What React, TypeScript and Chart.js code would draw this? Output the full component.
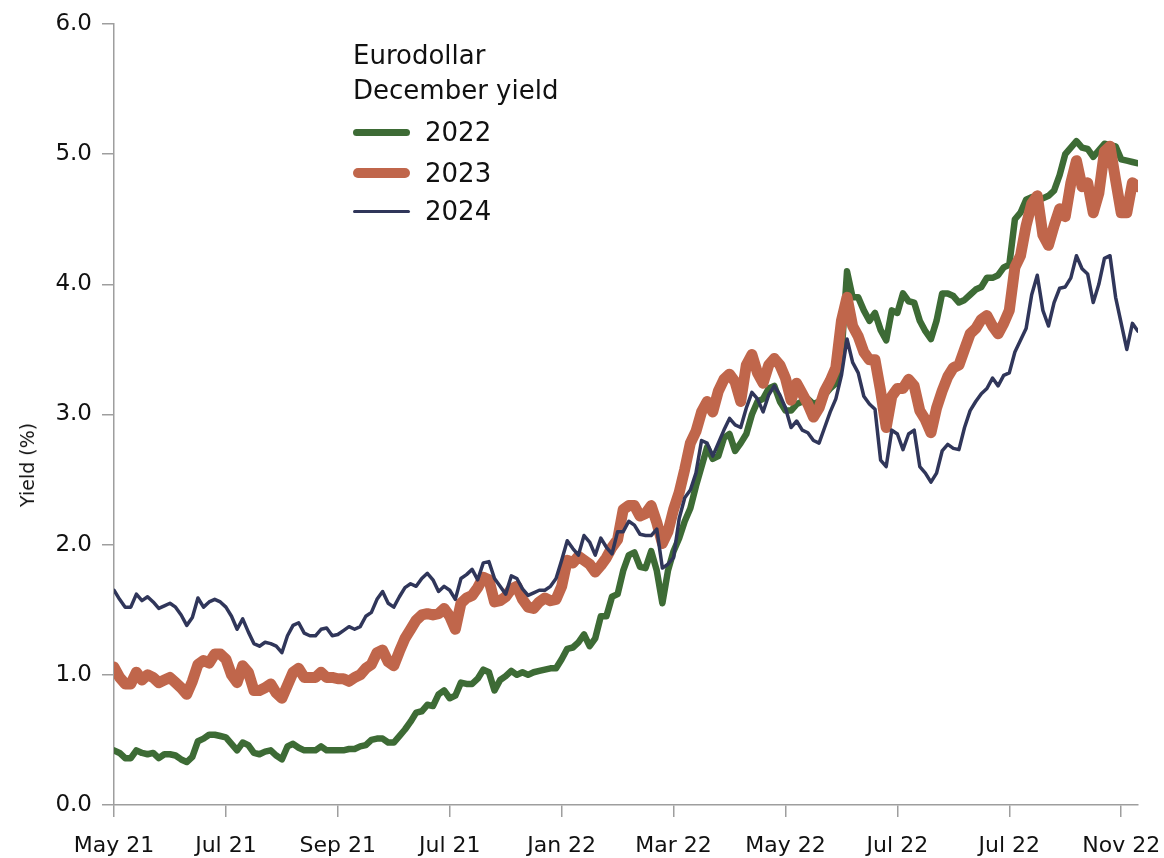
import React, { useEffect, useRef } from 'react';
import { Chart, registerables } from 'chart.js';

Chart.register(...registerables);

// X tick labels (as printed on the reference) and their positions in data-index units
const tickLabels = ['May 21', 'Jul 21', 'Sep 21', 'Jul 21', 'Jan 22', 'Mar 22', 'May 22', 'Jul 22', 'Jul 22', 'Nov 22'];
const tickIndex = [0, 20, 40, 60, 80, 100, 120, 140, 160, 180];
const yTicks = [0, 1, 2, 3, 4, 5, 6];

// Eurodollar December yield (%), sampled along the time axis
const yield2022 = [
  0.42, 0.40, 0.36, 0.36, 0.42, 0.40, 0.39, 0.40, 0.36, 0.39, 0.39, 0.38, 0.35, 0.33, 0.37, 0.49, 0.51, 0.54, 0.54, 0.53, 0.52,
  0.47, 0.42, 0.48, 0.46, 0.40, 0.39, 0.41, 0.42, 0.38, 0.35, 0.45, 0.47, 0.44, 0.42, 0.42, 0.42, 0.45, 0.42, 0.42, 0.42,
  0.42, 0.43, 0.43, 0.45, 0.46, 0.50, 0.51, 0.51, 0.48, 0.48, 0.53, 0.58, 0.64, 0.71, 0.72, 0.77, 0.76, 0.85, 0.88, 0.82,
  0.84, 0.94, 0.93, 0.93, 0.97, 1.04, 1.02, 0.88, 0.96, 0.99, 1.03, 1.00, 1.02, 1.00, 1.02, 1.03, 1.04, 1.05, 1.05, 1.12,
  1.20, 1.21, 1.25, 1.31, 1.22, 1.28, 1.45, 1.45, 1.60, 1.62, 1.80, 1.92, 1.94, 1.83, 1.82, 1.95, 1.80, 1.55, 1.80, 1.95,
  2.05, 2.18, 2.28, 2.45, 2.60, 2.75, 2.66, 2.68, 2.82, 2.85, 2.72, 2.78, 2.85, 3.00, 3.10, 3.12, 3.20, 3.22, 3.10, 3.03,
  3.03, 3.08, 3.10, 3.12, 3.08, 3.10, 3.15, 3.20, 3.24, 3.45, 4.10, 3.90, 3.90, 3.80, 3.72, 3.78, 3.65, 3.57, 3.80, 3.78,
  3.93, 3.87, 3.86, 3.72, 3.64, 3.58, 3.72, 3.93, 3.93, 3.91, 3.86, 3.88, 3.92, 3.96, 3.98, 4.05, 4.05, 4.07, 4.13, 4.15,
  4.50, 4.55, 4.65, 4.67, 4.66, 4.66, 4.68, 4.72, 4.84, 5.00, 5.05, 5.10, 5.05, 5.04, 4.98, 5.03, 5.08, 5.07, 5.06, 4.96,
  4.95, 4.94, 4.93,
];

const yield2023 = [
  1.06, 0.98, 0.93, 0.93, 1.02, 0.96, 1.00, 0.98, 0.94, 0.96, 0.98, 0.94, 0.90, 0.85, 0.95, 1.08, 1.11, 1.09, 1.16, 1.16, 1.12,
  1.00, 0.94, 1.07, 1.02, 0.88, 0.88, 0.90, 0.93, 0.86, 0.82, 0.92, 1.02, 1.05, 0.98, 0.98, 0.98, 1.02, 0.98, 0.98, 0.97,
  0.97, 0.95, 0.98, 1.00, 1.05, 1.08, 1.17, 1.19, 1.10, 1.07, 1.18, 1.28, 1.35, 1.42, 1.46, 1.47, 1.46, 1.47, 1.51, 1.45,
  1.35, 1.55, 1.59, 1.61, 1.67, 1.75, 1.73, 1.56, 1.57, 1.60, 1.66, 1.68, 1.58, 1.52, 1.51, 1.56, 1.59, 1.57, 1.58, 1.68,
  1.88, 1.86, 1.91, 1.88, 1.85, 1.79, 1.84, 1.90, 1.98, 2.04, 2.27, 2.30, 2.30, 2.22, 2.24, 2.30, 2.17, 2.01, 2.10, 2.27,
  2.40, 2.58, 2.78, 2.87, 3.02, 3.10, 3.02, 3.18, 3.27, 3.31, 3.25, 3.10, 3.38, 3.46, 3.32, 3.24, 3.38, 3.43, 3.38, 3.28,
  3.11, 3.24, 3.16, 3.08, 2.98, 3.05, 3.18, 3.26, 3.36, 3.72, 3.90, 3.68, 3.60, 3.48, 3.42, 3.42, 3.18, 2.90, 3.14, 3.20,
  3.20, 3.27, 3.22, 3.03, 2.96, 2.86, 3.05, 3.18, 3.29, 3.36, 3.38, 3.50, 3.62, 3.66, 3.73, 3.76, 3.68, 3.62, 3.70, 3.80,
  4.13, 4.22, 4.45, 4.62, 4.68, 4.38, 4.30, 4.45, 4.58, 4.52, 4.78, 4.95, 4.75, 4.78, 4.55, 4.70, 5.02, 5.06, 4.80, 4.55,
  4.55, 4.78, 4.75,
];

const yield2024 = [
  1.65, 1.58, 1.52, 1.52, 1.62, 1.57, 1.60, 1.56, 1.51, 1.53, 1.55, 1.52, 1.46, 1.38, 1.44, 1.59, 1.52, 1.56, 1.58, 1.56, 1.52,
  1.45, 1.35, 1.43, 1.33, 1.24, 1.22, 1.25, 1.24, 1.22, 1.17, 1.30, 1.38, 1.40, 1.32, 1.30, 1.30, 1.35, 1.36, 1.30, 1.31,
  1.34, 1.37, 1.35, 1.37, 1.45, 1.48, 1.58, 1.64, 1.55, 1.52, 1.60, 1.67, 1.70, 1.68, 1.74, 1.78, 1.73, 1.64, 1.68, 1.65,
  1.58, 1.74, 1.77, 1.81, 1.73, 1.86, 1.87, 1.74, 1.68, 1.62, 1.76, 1.74, 1.66, 1.61, 1.63, 1.65, 1.65, 1.68, 1.74, 1.88,
  2.03, 1.97, 1.92, 2.07, 2.02, 1.92, 2.05, 1.98, 1.93, 2.10, 2.10, 2.18, 2.15, 2.08, 2.07, 2.07, 2.12, 1.82, 1.85, 1.90,
  2.20, 2.36, 2.42, 2.55, 2.80, 2.78, 2.68, 2.78, 2.88, 2.97, 2.92, 2.90, 3.05, 3.17, 3.12, 3.02, 3.15, 3.22, 3.15, 3.05,
  2.90, 2.95, 2.88, 2.86, 2.80, 2.78, 2.90, 3.02, 3.12, 3.30, 3.58, 3.40, 3.32, 3.14, 3.08, 3.04, 2.65, 2.60, 2.88, 2.85,
  2.73, 2.85, 2.88, 2.60, 2.55, 2.48, 2.55, 2.72, 2.77, 2.74, 2.73, 2.90, 3.03, 3.10, 3.16, 3.20, 3.28, 3.22, 3.30, 3.32,
  3.48, 3.57, 3.66, 3.92, 4.07, 3.80, 3.68, 3.86, 3.97, 3.98, 4.05, 4.22, 4.12, 4.08, 3.86, 4.00, 4.20, 4.22, 3.90, 3.70,
  3.50, 3.70, 3.64,
];

const GREEN = '#3d6b35';
const ORANGE = '#c0664b';
const NAVY = '#30365a';
const AXIS = '#9e9e9e';
const FONT = 'DejaVu Sans';

const legendItems = [
  { label: '2022', color: GREEN, width: 7, center: 132 },
  { label: '2023', color: ORANGE, width: 10, center: 173 },
  { label: '2024', color: NAVY, width: 3, center: 211 },
];

export default function App() {
  const ref = useRef<HTMLCanvasElement>(null);

  useEffect(() => {
    const canvas = ref.current;
    if (!canvas) return;
    const toXY = (arr: number[]) => arr.map((y, x) => ({ x, y }));
    const chart = new Chart(canvas, {
      type: 'line',
      data: {
        datasets: [
          { label: '2024', data: toXY(yield2024), borderColor: NAVY, borderWidth: 3.5, order: 0 },
          { label: '2023', data: toXY(yield2023), borderColor: ORANGE, borderWidth: 11, order: 1 },
          { label: '2022', data: toXY(yield2022), borderColor: GREEN, borderWidth: 6.5, order: 2 },
        ],
      },
      options: {
        responsive: false,
        animation: false,
        layout: { padding: { top: 24, right: 26, bottom: 0, left: 0 } },
        elements: {
          point: { radius: 0, hoverRadius: 0 },
          line: { tension: 0, borderJoinStyle: 'round', borderCapStyle: 'round', fill: false },
        },
        plugins: { legend: { display: false }, tooltip: { enabled: false }, title: { display: false } },
        scales: {
          x: {
            type: 'linear',
            min: 0,
            max: 183,
            afterBuildTicks: (s: any) => {
              s.ticks = tickIndex.map((v) => ({ value: v }));
            },
            afterFit: (s: any) => {
              s.height = 53;
              s.paddingLeft = 0;
              s.paddingRight = 0;
            },
            grid: { display: true, drawOnChartArea: false, drawTicks: true, tickLength: 12, color: AXIS, lineWidth: 1.5 },
            border: { display: true, color: AXIS, width: 1.5 },
            ticks: {
              autoSkip: false,
              maxRotation: 0,
              padding: 16,
              color: '#111',
              font: { family: FONT, size: 22 },
              callback: (v: any) => {
                const k = tickIndex.indexOf(Number(v));
                return k >= 0 ? tickLabels[k] : '';
              },
            },
          },
          y: {
            type: 'linear',
            min: 0,
            max: 6,
            afterBuildTicks: (s: any) => {
              s.ticks = yTicks.map((v) => ({ value: v }));
            },
            afterFit: (s: any) => {
              s.width = 114;
              s.paddingTop = 0;
              s.paddingBottom = 0;
            },
            grid: { display: true, drawOnChartArea: false, drawTicks: true, tickLength: 12, color: AXIS, lineWidth: 1.5 },
            border: { display: true, color: AXIS, width: 1.5 },
            ticks: {
              padding: 10,
              color: '#111',
              font: { family: FONT, size: 23 },
              callback: (v: any) => Number(v).toFixed(1),
            },
          },
        },
      },
    });
    return () => chart.destroy();
  }, []);

  return (
    <div style={{ position: 'fixed', left: 0, top: 0, width: 1164, height: 858, background: '#fff', fontFamily: FONT }}>
      <canvas ref={ref} width={1164} height={858} style={{ display: 'block', width: 1164, height: 858 }} />
      <div
        style={{
          position: 'absolute',
          left: 27,
          top: 465,
          transform: 'translate(-50%, -50%) rotate(-90deg)',
          fontSize: 19,
          color: '#111',
          whiteSpace: 'nowrap',
        }}
      >
        Yield (%)
      </div>
      <div style={{ position: 'absolute', left: 353, top: 38, fontSize: 26, lineHeight: '35px', color: '#111', whiteSpace: 'nowrap' }}>
        <div>Eurodollar</div>
        <div>December yield</div>
      </div>
      {legendItems.map((it) => (
        <div
          key={it.label}
          style={{
            position: 'absolute',
            left: 353,
            top: it.center - 20,
            height: 40,
            display: 'flex',
            alignItems: 'center',
            fontSize: 26,
            color: '#111',
            whiteSpace: 'nowrap',
          }}
        >
          <div style={{ width: 57, height: it.width, borderRadius: it.width / 2, background: it.color, marginRight: 15 }} />
          <span>{it.label}</span>
        </div>
      ))}
    </div>
  );
}
